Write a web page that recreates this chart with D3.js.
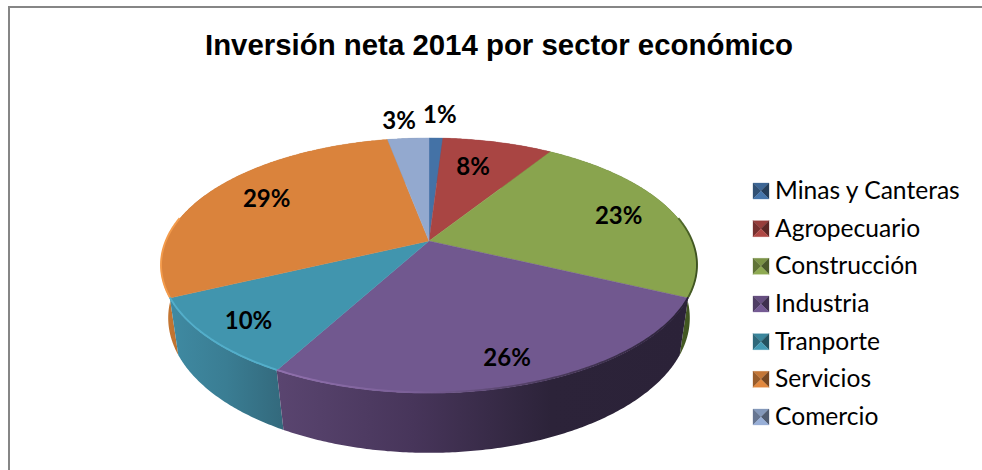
<!DOCTYPE html>
<html lang="es">
<head>
<meta charset="utf-8">
<title>Inversión neta 2014 por sector económico</title>
<script src="https://cdn.jsdelivr.net/npm/d3@7"></script>
<style>
  html, body { margin: 0; padding: 0; background: #fff; overflow: hidden; }
  svg { display: block; }
</style>
</head>
<body>
<div id="chart"></div>
<script>
// Sector names and their share of net investment, in percent.
const sectors = ["Minas y Canteras", "Agropecuario", "Construcción", "Industria", "Tranporte", "Servicios", "Comercio"];
const shares = [1, 8, 23, 26, 10, 29, 3];
const chartTitle = "Inversión neta 2014 por sector económico";

// Colours of each slice: top face, and side wall from left to right.
const faceColours = ["#4472a6", "#a94543", "#89a44e", "#71588f", "#4195ae", "#da833c", "#93a9cf"];
const wallStops = [
  ["#335a85", "#335a85"],
  ["#7e3331", "#7e3331"],
  ["#4c6325", "#3d5120"],
  ["#5a4570", "#47355a", "#2c2339", "#2b2238"],
  ["#3f8aa2", "#3a7d93", "#33697c"],
  ["#c97a35", "#b56a2a"],
  ["#6d7f9e", "#6d7f9e"]
];
const rimStops = [
  ["#5d8cc2", "#5d8cc2"],
  ["#c65b58", "#c65b58"],
  ["#55702d", "#3d5120"],
  ["#9070ad", "#7a5f97", "#4a3a5c", "#2b2238"],
  ["#52aeca", "#52aeca"],
  ["#f39b4c", "#f39b4c"],
  ["#aebfdd", "#aebfdd"]
];

// Where each percentage sits: radius as a fraction of the pie, and a small turn off the slice's mid-angle.
const labelRadius = [1.28, 0.71, 0.78, 0.84, 0.84, 0.76, 1.22];
const labelTurn = [0.5, -2.5, 0.4, 0.6, -0.2, 2.5, -1.2];

const width = 982, height = 470;

// Perspective view of the disc: one mapping for the top face, one for the base.
const topDisc = { cx: 429, cy: 241, a: 263, b: 122.8, p: 0.192 };
const baseDisc = { cx: 429, cy: 295, a: 257, b: 131, p: 0.17 };

function project(disc, angle, r = 1) {
  const u = r * Math.sin(angle), v = -r * Math.cos(angle);
  const d = 1 - disc.p * v;
  return [disc.cx + disc.a * u / d, disc.cy + disc.b * v / d];
}

function sweep(disc, from, to) {
  const n = Math.max(2, Math.ceil(Math.abs(to - from) / 0.01));
  return d3.range(n + 1).map(i => project(disc, from + (to - from) * i / n));
}

const color = d3.scaleOrdinal().domain(sectors).range(faceColours);
const slices = d3.pie().sort(null).value(d => d.share)
  (sectors.map((name, i) => ({ name, share: shares[i], i })));
const line = d3.line();

const svg = d3.select("#chart").append("svg").attr("width", width).attr("height", height);
const defs = svg.append("defs");

// Chart frame: only the top and left edges fall inside the page.
svg.append("rect").attr("x", 8).attr("y", 6).attr("width", width - 8).attr("height", 2).attr("fill", "#868686");
svg.append("rect").attr("x", 8).attr("y", 6).attr("width", 2).attr("height", height - 6).attr("fill", "#868686");

svg.append("text")
  .attr("x", 499).attr("y", 55)
  .attr("text-anchor", "middle")
  .attr("font-family", "'Liberation Sans', Arial, sans-serif")
  .attr("font-weight", 700).attr("font-size", 29.4)
  .attr("fill", "#000")
  .text(chartTitle);

// A horizontal gradient spanning one slice's on-screen width.
function xGradient(id, stops, points) {
  const xs = d3.extent(points, p => p[0]);
  const g = defs.append("linearGradient").attr("id", id)
    .attr("gradientUnits", "userSpaceOnUse")
    .attr("x1", xs[0]).attr("x2", xs[1]).attr("y1", 0).attr("y2", 0);
  stops.forEach((c, k) => g.append("stop")
    .attr("offset", k / (stops.length - 1)).attr("stop-color", c));
  return `url(#${id})`;
}

defs.append("filter").attr("id", "soft")
  .append("feGaussianBlur").attr("stdDeviation", 0.7);

// Side walls first, then the top face covers whatever lies behind it.
const drawOrder = [5, 6, 0, 1, 2, 4, 3];
const walls = svg.append("g");
drawOrder.forEach(k => {
  const s = slices[k];
  const upper = sweep(topDisc, s.startAngle, s.endAngle);
  const lower = sweep(baseDisc, s.endAngle, s.startAngle);
  const outline = upper.concat(lower);
  walls.append("path")
    .attr("d", line(outline) + "Z")
    .attr("fill", xGradient(`wall-${k}`, wallStops[k], outline.filter(p => p[1] > 262)))
    .attr("stroke", "none");
});

const faces = svg.append("g");
slices.forEach(s => {
  const pts = [[topDisc.cx, topDisc.cy]].concat(sweep(topDisc, s.startAngle, s.endAngle));
  faces.append("path")
    .attr("d", line(pts) + "Z")
    .attr("fill", color(s.data.name))
    .attr("stroke", color(s.data.name))
    .attr("stroke-width", 0.4);
});

// Lit bevel along the front edge of the top face.
const rims = svg.append("g").attr("filter", "url(#soft)").attr("fill", "none");
slices.forEach((s, k) => {
  const from = Math.max(s.startAngle, Math.PI * 0.44);
  const to = Math.min(s.endAngle, Math.PI * 1.56);
  if (from >= to) return;
  const pts = sweep(topDisc, from, to).map(p => [p[0], p[1] - 0.6]);
  rims.append("path")
    .attr("d", line(pts))
    .attr("stroke", xGradient(`rim-${k}`, rimStops[k], pts))
    .attr("stroke-width", 1.9);
});

// Percentages on and above the slices.
const labels = svg.append("g")
  .attr("font-family", "Lato, Carlito, Calibri, sans-serif")
  .attr("font-weight", 700).attr("font-size", 24)
  .attr("text-anchor", "middle").attr("fill", "#000");
slices.forEach((s, k) => {
  const mid = (s.startAngle + s.endAngle) / 2 + labelTurn[k] * Math.PI / 180;
  const [x, y] = project(topDisc, mid, labelRadius[k]);
  labels.append("text").attr("x", x).attr("y", y + 8.5).text(`${s.data.share}%`);
});

// Legend with bevelled swatches.
const legendY = d3.scalePoint().domain(sectors).range([191, 417]);
const swatch = 16;
const legend = svg.append("g");
sectors.forEach(name => {
  const g = legend.append("g").attr("transform", `translate(753,${legendY(name) - swatch / 2})`);
  const base = d3.color(color(name));
  const m = swatch / 2;
  const facets = [
    { pts: [[0, 0], [swatch, 0], [m, m]], fill: base.darker(0.3) },
    { pts: [[0, 0], [0, swatch], [m, m]], fill: base.darker(1) },
    { pts: [[swatch, 0], [swatch, swatch], [m, m]], fill: base.darker(1.7) },
    { pts: [[0, swatch], [swatch, swatch], [m, m]], fill: base.brighter(0.1) }
  ];
  facets.forEach(f => g.append("path")
    .attr("d", line(f.pts) + "Z")
    .attr("fill", f.fill).attr("stroke", f.fill).attr("stroke-width", 0.3));
  legend.append("text")
    .attr("x", 775).attr("y", legendY(name) + 8)
    .attr("font-family", "Lato, Carlito, Calibri, sans-serif")
    .attr("font-size", 24.6).attr("fill", "#000")
    .text(name);
});
</script>
</body>
</html>
